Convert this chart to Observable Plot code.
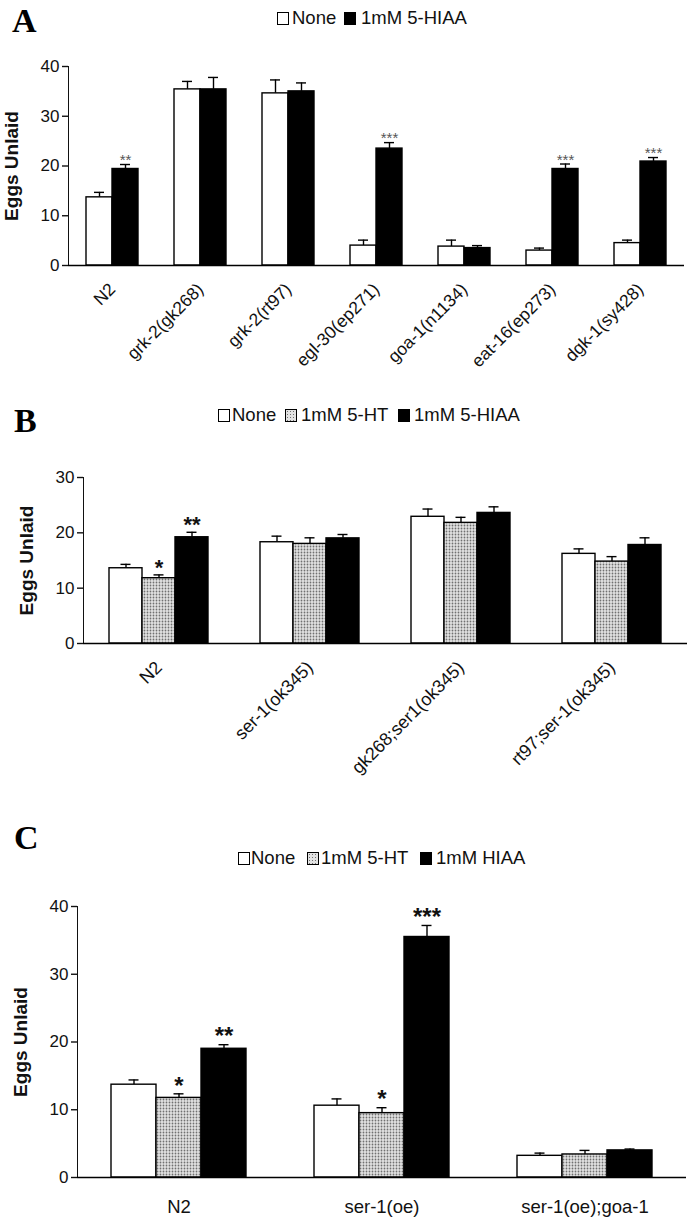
<!DOCTYPE html>
<html>
<head>
<meta charset="utf-8">
<script src="https://cdn.jsdelivr.net/npm/d3@7"></script>
<script src="https://cdn.jsdelivr.net/npm/@observablehq/plot@0.6"></script>
<style>
  html, body { margin: 0; padding: 0; background: #fff; }
  #root { position: relative; width: 693px; height: 1222px; overflow: hidden; font-family: 'Liberation Sans', Arial, Helvetica, sans-serif; color: #111; }
  .letter { position: absolute; font-family: 'Liberation Serif', 'Times New Roman', serif; font-weight: bold; font-size: 34px; line-height: 34px; color: #000; }
  .lbox { position: absolute; width: 10px; height: 11px; border: 1px solid #000; box-sizing: content-box; }
  .ltxt { position: absolute; font-size: 18.5px; line-height: 20px; white-space: pre; color: #111; }
  .dots { background-color: #e2e2e2; background-image: radial-gradient(#707070 38%, transparent 45%); background-size: 3px 3px; }
  .panel { position: absolute; left: 0; }
  svg g[aria-label="y-axis label"], svg g[aria-label="y-axis label"] text { font-weight: bold; font-size: 19px; fill: #111; }
  svg g[aria-label="y-axis tick"] path { stroke-width: 1.4; }
</style>
</head>
<body>
<div id="root"></div>
<script>
// ---------- Panel A data ----------
const groupsA = ["N2", "grk-2(gk268)", "grk-2(rt97)", "egl-30(ep271)", "goa-1(n1134)", "eat-16(ep273)", "dgk-1(sy428)"];
const seriesA = ["None", "1mM 5-HIAA"];
const noneA    = [13.7, 35.4, 34.6, 4.0, 3.8, 3.0, 4.5];
const noneErrA = [1.0, 1.6, 2.7, 1.1, 1.3, 0.5, 0.6];
const hiaaA    = [19.4, 35.4, 35.0, 23.5, 3.5, 19.4, 20.9];
const hiaaErrA = [0.9, 2.4, 1.7, 1.2, 0.5, 1.0, 0.8];
const sigNoneA = ["", "", "", "", "", "", ""];
const sigHiaaA = ["**", "", "", "***", "", "***", "***"];
const ticksA = [0, 10, 20, 30, 40];

// ---------- Panel B data ----------
const groupsB = ["N2", "ser-1(ok345)", "gk268;ser1(ok345)", "rt97;ser-1(ok345)"];
const seriesB = ["None", "1mM 5-HT", "1mM 5-HIAA"];
const noneB    = [13.6, 18.3, 22.9, 16.2];
const noneErrB = [0.7, 1.1, 1.4, 0.9];
const htB      = [11.8, 18.0, 21.8, 14.8];
const htErrB   = [0.6, 1.1, 1.0, 0.9];
const hiaaB    = [19.2, 19.0, 23.6, 17.8];
const hiaaErrB = [0.9, 0.7, 1.1, 1.3];
const sigNoneB = ["", "", "", ""];
const sigHtB   = ["*", "", "", ""];
const sigHiaaB = ["**", "", "", ""];
const ticksB = [0, 10, 20, 30];

// ---------- Panel C data ----------
const groupsC = ["N2", "ser-1(oe)", "ser-1(oe);goa-1"];
const seriesC = ["None", "1mM 5-HT", "1mM HIAA"];
const noneC    = [13.7, 10.6, 3.2];
const noneErrC = [0.7, 1.0, 0.4];
const htC      = [11.75, 9.5, 3.4];
const htErrC   = [0.6, 0.8, 0.6];
const hiaaC    = [19.0, 35.5, 4.0];
const hiaaErrC = [0.6, 1.7, 0.2];
const sigNoneC = ["", "", ""];
const sigHtC   = ["*", "*", ""];
const sigHiaaC = ["**", "***", ""];
const ticksC = [0, 10, 20, 30, 40];

const yLabel = "Eggs Unlaid";
const FONT = "'Liberation Sans', Arial, Helvetica, sans-serif";
const root = document.getElementById("root");

function buildTable(groups, series, vals, errs, sigs) {
  return groups.flatMap((g, i) => series.map((s, j) => ({group: g, series: s, value: vals[j][i], err: errs[j][i], sig: sigs[j][i]})));
}

function panel(o) {
  const data = buildTable(o.groups, o.series, o.vals, o.errs, o.sigs);
  const svg = Plot.plot({
    width: 693,
    height: o.height,
    marginLeft: o.ml, marginRight: o.mr, marginTop: o.mt, marginBottom: o.mb,
    style: {fontFamily: FONT, fontSize: "17px", color: "#111", background: "none", overflow: "visible"},
    fx: {domain: o.groups, padding: 0, label: null, axis: "bottom", tickSize: 0, tickRotate: o.rotate, tickPadding: o.fxPad},
    x: {domain: o.series, paddingInner: 0, paddingOuter: o.po, axis: null},
    y: {domain: [0, o.ymax], ticks: o.ticks, tickSize: 6, tickFormat: d => String(d), label: yLabel, labelAnchor: "center", labelOffset: o.labelOffset, line: true},
    color: {type: "ordinal", domain: o.series, range: o.fills},
    marks: [
      Plot.ruleX(data, {fx: "group", x: "series", y1: "value", y2: d => d.value + d.err, stroke: "#000", strokeWidth: 1.4}),
      Plot.tickY(data, {fx: "group", x: "series", y: d => d.value + d.err, stroke: "#000", strokeWidth: 1.4, insetLeft: o.capInset, insetRight: o.capInset}),
      Plot.barY(data, {fx: "group", x: "series", y: "value", fill: "series", stroke: "#000", strokeWidth: 1.4}),
      Plot.text(data.filter(d => d.sig), {fx: "group", x: "series", y: d => d.value + d.err, text: "sig", lineAnchor: "middle", dy: o.sigDy, fontSize: o.sigSize, fontWeight: o.sigWeight, fill: o.sigColor}),
      Plot.ruleY([0], {stroke: "#000", strokeWidth: 1.5})
    ]
  });
  if (o.patternId) {
    const ns = "http://www.w3.org/2000/svg";
    const defs = document.createElementNS(ns, "defs");
    defs.innerHTML = `<pattern id="${o.patternId}" width="3" height="3" patternUnits="userSpaceOnUse"><rect width="3" height="3" fill="#e2e2e2"/><circle cx="1.5" cy="1.5" r="0.9" fill="#707070"/></pattern>`;
    svg.insertBefore(defs, svg.firstChild);
  }
  svg.querySelectorAll('[aria-label="fx-axis tick label"]').forEach(g => g.setAttribute("font-size", o.fxSize));
  // keep the axis label as plain text (no direction arrow)
  svg.querySelectorAll('[aria-label="y-axis label"] text').forEach(t => { t.textContent = yLabel; });
  const wrap = document.createElement("div");
  wrap.className = "panel";
  wrap.style.top = o.top + "px";
  wrap.appendChild(svg);
  root.appendChild(wrap);
}

function letter(t, x, y) {
  const d = document.createElement("div");
  d.className = "letter";
  d.textContent = t;
  d.style.left = x + "px";
  d.style.top = y + "px";
  root.appendChild(d);
}

function legend(cy, items) {
  for (const it of items) {
    const b = document.createElement("div");
    b.className = "lbox" + (it.kind === "dots" ? " dots" : "");
    if (it.kind === "none") b.style.background = "#fff";
    if (it.kind === "black") b.style.background = "#000";
    b.style.left = it.bx + "px";
    b.style.top = (cy - 6) + "px";
    root.appendChild(b);
    const t = document.createElement("div");
    t.className = "ltxt";
    t.textContent = it.text;
    t.style.left = it.tx + "px";
    t.style.top = (cy - 10) + "px";
    root.appendChild(t);
  }
}

// Panel A
letter("A", 12, 4);
legend(18, [
  {kind: "none", bx: 277, tx: 292, text: seriesA[0]},
  {kind: "black", bx: 344, tx: 361, text: seriesA[1]}
]);
panel({
  groups: groupsA, series: seriesA,
  vals: [noneA, hiaaA], errs: [noneErrA, hiaaErrA], sigs: [sigNoneA, sigHiaaA],
  fills: ["#fff", "#000"], ymax: 40, ticks: ticksA,
  top: 40, height: 320, ml: 68, mr: 9, mt: 26, mb: 95,
  po: 0.69, capInset: 8, rotate: -45, fxPad: 21, fxSize: 17.5, labelOffset: 64,
  sigSize: 15, sigWeight: "normal", sigColor: "#555", sigDy: -4
});

// Panel B
letter("B", 14, 404);
legend(415, [
  {kind: "none", bx: 218, tx: 232, text: seriesB[0]},
  {kind: "dots", bx: 285, tx: 301, text: seriesB[1]},
  {kind: "black", bx: 398, tx: 414, text: seriesB[2]}
]);
panel({
  groups: groupsB, series: seriesB,
  vals: [noneB, htB, hiaaB], errs: [noneErrB, htErrB, hiaaErrB], sigs: [sigNoneB, sigHtB, sigHiaaB],
  fills: ["#fff", "url(#dotsB)", "#000"], patternId: "dotsB", ymax: 30, ticks: ticksB,
  top: 440, height: 380, ml: 81, mr: 5, mt: 37, mb: 177,
  po: 0.73, capInset: 11.5, rotate: -45, fxPad: 21, fxSize: 18, labelOffset: 64,
  sigSize: 22, sigWeight: "bold", sigColor: "#111", sigDy: -7
});

// Panel C
letter("C", 14, 821);
legend(858, [
  {kind: "none", bx: 238, tx: 251, text: seriesC[0]},
  {kind: "dots", bx: 307, tx: 321, text: seriesC[1]},
  {kind: "black", bx: 420, tx: 436, text: seriesC[2]}
]);
panel({
  groups: groupsC, series: seriesC,
  vals: [noneC, htC, hiaaC], errs: [noneErrC, htErrC, hiaaErrC], sigs: [sigNoneC, sigHtC, sigHiaaC],
  fills: ["#fff", "url(#dotsC)", "#000"], patternId: "dotsC", ymax: 40, ticks: ticksC,
  top: 870, height: 352, ml: 77, mr: 7, mt: 36, mb: 45,
  po: 0.73, capInset: 17.5, rotate: 0, fxPad: 22, fxSize: 18.5, labelOffset: 64,
  sigSize: 24, sigWeight: "bold", sigColor: "#111", sigDy: -8
});
</script>
</body>
</html>
